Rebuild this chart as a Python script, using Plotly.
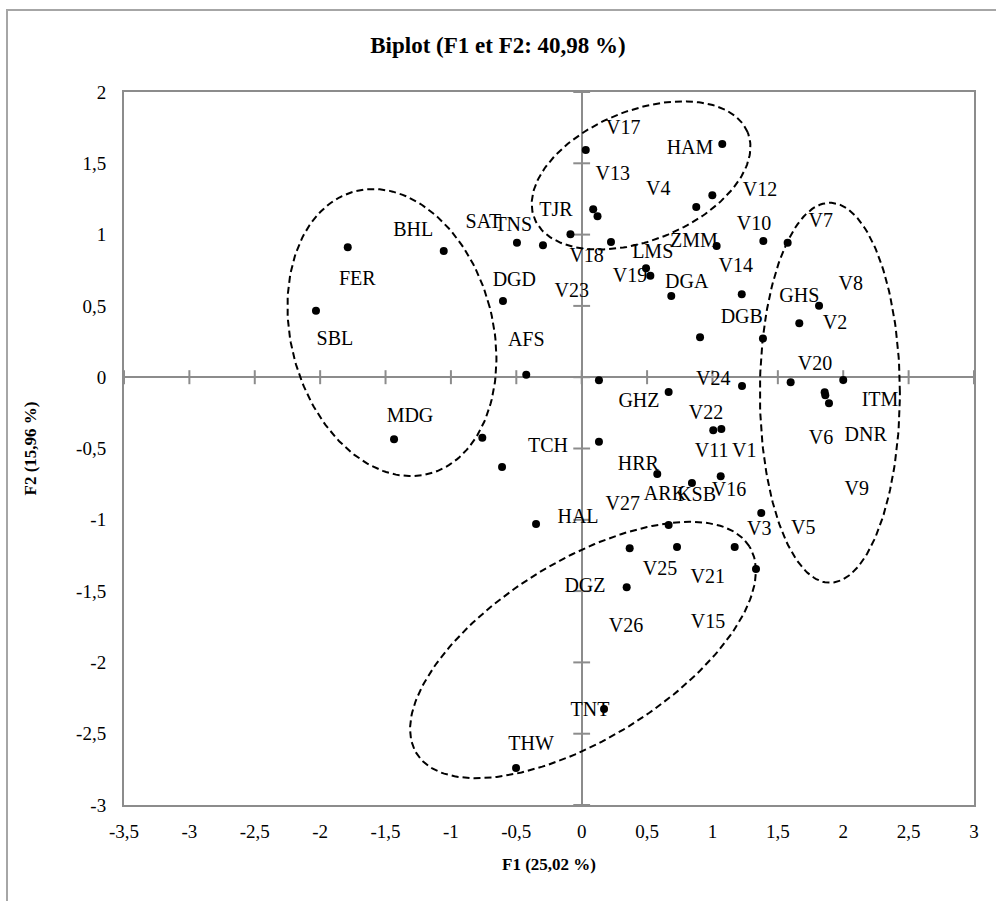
import numpy as np
import plotly.graph_objects as go

# ---- data (F1, F2 coordinates of each point) ----
point_f1 = [-1.789, -2.032, -1.055, -0.495, -0.296, -0.086, 0.031, 0.088, 0.121, 0.224,
            -0.602, -0.424, 0.132, -1.435, -0.760, -0.609, -0.349, 1.075, 0.999, 0.876,
            1.032, 1.389, 1.575, 0.492, 0.525, 0.685, 1.224, 1.815, 1.664, 0.905,
            1.386, 2.000, 1.598, 1.226, 1.858, 1.863, 1.891, 0.665, 1.006, 1.068,
            0.132, 0.578, 0.843, 1.063, 1.373, 0.665, 0.367, 0.729, 1.170, 1.333,
            0.344, 0.171, -0.502]
point_f2 = [0.911, 0.466, 0.885, 0.943, 0.925, 1.002, 1.593, 1.177, 1.128, 0.948,
            0.534, 0.018, -0.022, -0.435, -0.424, -0.630, -1.030, 1.635, 1.276, 1.194,
            0.920, 0.955, 0.943, 0.764, 0.712, 0.569, 0.581, 0.501, 0.378, 0.280,
            0.271, -0.020, -0.036, -0.062, -0.106, -0.127, -0.183, -0.104, -0.372, -0.363,
            -0.452, -0.679, -0.742, -0.695, -0.952, -1.036, -1.200, -1.191, -1.191, -1.345,
            -1.473, -2.327, -2.741]

labels = ["FER", "SBL", "BHL", "SAT", "TNS", "TJR", "DGD", "V23", "AFS", "MDG",
          "V18", "V17", "HAM", "V13", "V4", "V12", "V10", "V7", "ZMM", "LMS",
          "V14", "V19", "DGA", "V8", "GHS", "DGB", "V2", "V20", "V24", "GHZ",
          "ITM", "V22", "DNR", "V6", "V11", "V1", "HRR", "V16", "V9", "ARK",
          "KSB", "V27", "V3", "V5", "V25", "V21", "DGZ", "TCH", "HAL", "V26",
          "V15", "TNT", "THW"]
label_f1 = [-1.716, -1.887, -1.288, -0.752, -0.523, -0.197, -0.515, -0.076, -0.424, -1.313,
            0.038, 0.318, 0.828, 0.237, 0.586, 1.363, 1.318, 1.828, 0.859, 0.543,
            1.178, 0.369, 0.803, 2.057, 1.664, 1.224, 1.937, 1.784, 1.006, 0.438,
            2.281, 0.951, 2.172, 1.830, 0.994, 1.243, 0.433, 1.126, 2.103, 0.637,
            0.879, 0.314, 1.358, 1.695, 0.599, 0.964, 0.025, -0.258, -0.028, 0.339,
            0.966, 0.063, -0.387]
label_f2 = [0.683, 0.261, 1.027, 1.083, 1.060, 1.168, 0.677, 0.600, 0.256, -0.277,
            0.845, 1.738, 1.598, 1.418, 1.313, 1.306, 1.067, 1.090, 0.950, 0.873,
            0.775, 0.701, 0.663, 0.647, 0.560, 0.417, 0.371, 0.086, -0.020, -0.176,
            -0.167, -0.260, -0.412, -0.435, -0.522, -0.522, -0.616, -0.798, -0.791, -0.826,
            -0.831, -0.896, -1.072, -1.065, -1.352, -1.410, -1.473, -0.489, -0.987, -1.752,
            -1.724, -2.341, -2.580]

x_ticks = [-3.5, -3, -2.5, -2, -1.5, -1, -0.5, 0, 0.5, 1, 1.5, 2, 2.5, 3]
y_ticks = [-3, -2.5, -2, -1.5, -1, -0.5, 0, 0.5, 1, 1.5, 2]


def fr(v):
    return ("%g" % v).replace(".", ",")


# ellipse groups: center (F1, F2), semi axes (px), rotation (deg)
ell_cx = [-1.451, 0.454, 1.898, 0.010]
ell_cy = [0.313, 1.415, -0.109, -1.913]
ell_a = [101, 115, 70, 196]
ell_b = [146, 65, 190, 89]
ell_rot = [14.7, 22, 0, 31.9]

PX_X = 850 / 6.5
PX_Y = 713 / 5.0

FONT = "Liberation Serif, Times New Roman, serif"
GRAY = "#8c8c8c"

fig = go.Figure()

# ellipses
for cx, cy, a, b, r in zip(ell_cx, ell_cy, ell_a, ell_b, ell_rot):
    t = np.linspace(0, 2 * np.pi, 200)
    th = np.radians(r)
    dx = a * np.cos(t) * np.cos(th) - b * np.sin(t) * np.sin(th)
    dy = a * np.cos(t) * np.sin(th) + b * np.sin(t) * np.cos(th)
    fig.add_trace(go.Scatter(x=cx + dx / PX_X, y=cy + dy / PX_Y, mode="lines",
                             line=dict(color="black", width=2, dash="7px,4px"),
                             hoverinfo="skip", showlegend=False))

# tick marks on the zero axes
fig.add_trace(go.Scatter(x=x_ticks, y=[0] * len(x_ticks), mode="markers",
                         marker=dict(symbol="line-ns", size=10,
                                     line=dict(color=GRAY, width=2)),
                         hoverinfo="skip", showlegend=False))
fig.add_trace(go.Scatter(x=[0] * len(y_ticks), y=y_ticks, mode="markers",
                         marker=dict(symbol="line-ew", size=12,
                                     line=dict(color=GRAY, width=2)),
                         hoverinfo="skip", showlegend=False))

# points
fig.add_trace(go.Scatter(x=point_f1, y=point_f2, mode="markers",
                         marker=dict(color="black", size=8),
                         showlegend=False))
# labels
fig.add_trace(go.Scatter(x=label_f1, y=label_f2, mode="text", text=labels,
                         textposition="middle center",
                         textfont=dict(family=FONT, size=20, color="black"),
                         showlegend=False, hoverinfo="skip"))

fig.update_layout(
    width=996, height=901, autosize=False,
    margin=dict(l=124, r=22, t=92, b=96),
    paper_bgcolor="white", plot_bgcolor="white",
    title=dict(text="<b>Biplot (F1 et F2: 40,98 %)</b>", x=0.5, xref="container",
               y=1 - 45 / 901, yref="container", xanchor="center", yanchor="middle",
               font=dict(family=FONT, size=23, color="black")),
    font=dict(family=FONT, color="black"),
)
fig.update_xaxes(range=[-3.5, 3], tickvals=x_ticks, ticktext=[fr(v) for v in x_ticks],
                 showgrid=False, zeroline=True, zerolinecolor=GRAY, zerolinewidth=2,
                 showline=True, mirror=True, linecolor=GRAY, linewidth=2,
                 ticks="", ticklabelstandoff=8,
                 tickfont=dict(family=FONT, size=19, color="black"))
fig.update_yaxes(range=[-3, 2], tickvals=y_ticks, ticktext=[fr(v) for v in y_ticks],
                 showgrid=False, zeroline=True, zerolinecolor=GRAY, zerolinewidth=2,
                 showline=True, mirror=True, linecolor=GRAY, linewidth=2,
                 ticks="", ticklabelstandoff=12,
                 tickfont=dict(family=FONT, size=19, color="black"))

fig.add_annotation(text="<b>F1 (25,02 %)</b>", xref="paper", yref="paper",
                   x=0.5, y=(805 - 864) / 713, showarrow=False,
                   font=dict(family=FONT, size=17, color="black"),
                   xanchor="center", yanchor="middle")
fig.add_annotation(text="<b>F2 (15,96 %)</b>", xref="paper", yref="paper",
                   x=(30 - 124) / 850, y=0.5, textangle=-90, showarrow=False,
                   font=dict(family=FONT, size=17, color="black"),
                   xanchor="center", yanchor="middle")

# outer chart-area frame
fig.add_shape(type="rect", xref="paper", yref="paper",
              x0=(7 - 124) / 850, x1=1.2, y0=-0.3, y1=(805 - 10) / 713,
              line=dict(color="#a6a6a6", width=2), fillcolor="rgba(0,0,0,0)", layer="below")

fig.write_html("out.html")
